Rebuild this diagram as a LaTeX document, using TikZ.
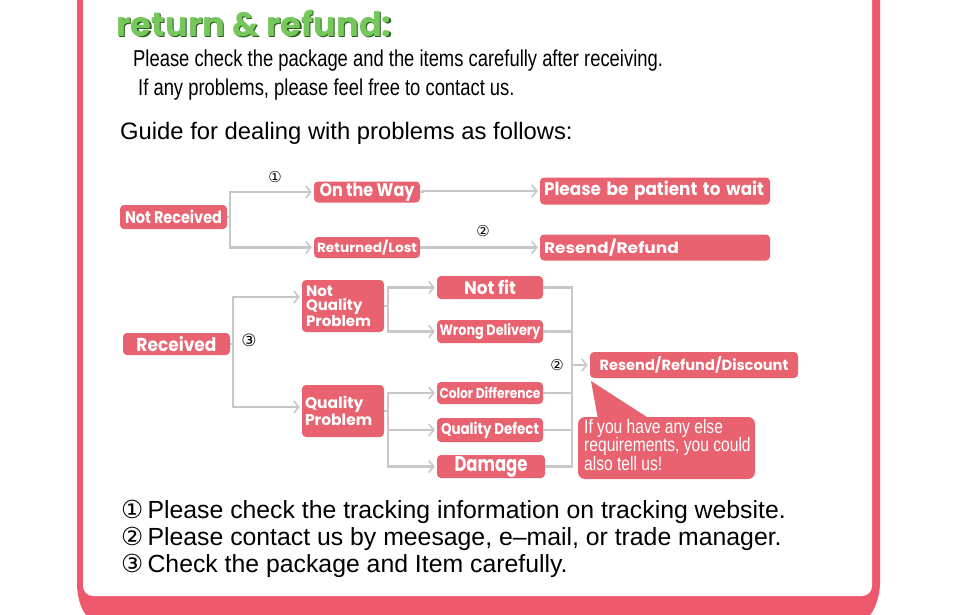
\documentclass[tikz,border=0pt]{standalone}
\usepackage{fontspec}
\usetikzlibrary{arrows.meta}
\setmainfont{Liberation Sans}
\newfontfamily\narrowfont[FakeStretch=0.8]{Liberation Sans}
\newfontfamily\boxfont{Poppins}
\newfontfamily\symfont{DejaVu Sans}
\definecolor{pinkbox}{RGB}{232,98,111}
\definecolor{framepink}{RGB}{238,88,108}
\definecolor{linegray}{RGB}{200,200,200}
\definecolor{titlegreen}{RGB}{118,200,92}
\definecolor{titledark}{RGB}{40,95,30}
\newcommand\bt[3]{\resizebox{#1pt}{#2pt}{\boxfont\bfseries #3}}
\tikzset{
  pbox/.style={fill=pinkbox, rounded corners=4pt, text=white, inner sep=0pt, align=center, font=\boxfont\bfseries},
  conn/.style={draw=linegray, line width=2.4pt},
  arr/.style={conn, -{Straight Barb[length=5pt,width=12pt,line width=1.6pt]}, shorten >=2pt},
  num/.style={font=\symfont\fontsize{15}{15}\selectfont, inner sep=0pt}
}
\begin{document}
\begin{tikzpicture}[x=1pt,y=-1pt]
\useasboundingbox (0,0) rectangle (960,615);
% frame
\fill[framepink] (77,-5) -- (77,585) .. controls (78,605) and (84,615) .. (92,620) -- (866,620) .. controls (874,612) and (879,600) .. (880,585) -- (880,-5) -- cycle;
\fill[white, rounded corners=10pt] (83,-25) -- (83,596) -- (872,596) -- (872,-25) -- cycle;
% title
\node[text=titledark, anchor=west] (tshadow) at (114.2,24.2) {\resizebox{275pt}{!}{\boxfont\bfseries return \& refund:}};
\node[text=titlegreen, anchor=west] (title) at (113,23) {\resizebox{275pt}{!}{\boxfont\bfseries return \& refund:}};
% intro text
\node[anchor=west, inner sep=0pt, font=\narrowfont\fontsize{23}{23}\selectfont] (l1) at (133,61) {Please check the package and the items carefully after receiving.};
\node[anchor=west, inner sep=0pt, font=\narrowfont\fontsize{23}{23}\selectfont] (l2) at (138,90) {If any problems, please feel free to contact us.};
\node[anchor=west, inner sep=0pt, font=\fontsize{23.8}{24}\selectfont] (guide) at (120,133) {Guide for dealing with problems as follows:};
% boxes upper
\node[pbox, minimum width=107pt, minimum height=24pt] (nr) at (173.5,217) {\bt{97}{13.5}{Not Received}};
\node[pbox, minimum width=106pt, minimum height=21pt] (ow) at (367,192) {\bt{95}{13.5}{On the Way}};
\node[pbox, minimum width=106pt, minimum height=21pt] (rl) at (367,247.5) {\bt{100}{12.5}{Returned/Lost}};
\node[pbox, minimum width=230pt, minimum height=27pt, text width=222pt, align=left] (pb) at (655,191) {\bt{220}{14.5}{Please be patient to wait}};
\node[pbox, minimum width=230pt, minimum height=26pt, text width=222pt, align=left] (rr) at (655,247.5) {\bt{135}{14.5}{Resend/Refund}};
% boxes lower
\node[pbox, minimum width=107pt, minimum height=22pt] (rcv) at (176.5,344) {\bt{80}{15}{Received}};
\node[pbox, minimum width=82pt, minimum height=52pt, font=\boxfont\bfseries\fontsize{15}{14}\selectfont, text width=74pt, align=left] (nqp) at (343,306) {Not\\Quality\\Problem};
\node[pbox, minimum width=82pt, minimum height=52pt, font=\boxfont\bfseries\fontsize{15.5}{16.5}\selectfont, text width=76pt, align=left] (qp) at (343,411) {Quality\\Problem};
\node[pbox, minimum width=106pt, minimum height=23pt] (nf) at (490,287.5) {\bt{52}{14.5}{Not fit}};
\node[pbox, minimum width=106pt, minimum height=23pt] (wd) at (490,331.5) {\bt{101}{12}{Wrong Delivery}};
\node[pbox, minimum width=106pt, minimum height=22pt] (cd) at (490,393) {\bt{101}{11.5}{Color Difference}};
\node[pbox, minimum width=106pt, minimum height=24pt] (qd) at (490,430) {\bt{98}{12.5}{Quality Defect}};
\node[pbox, minimum width=108pt, minimum height=23pt] (dm) at (491,466.5) {\bt{73}{15}{Damage}};
\node[pbox, minimum width=208pt, minimum height=26pt] (rrd) at (694,365) {\bt{189}{14}{Resend/Refund/Discount}};
% speech bubble
\fill[pinkbox, rounded corners=7pt] (578,417) rectangle (755,479);
\fill[pinkbox] (598,419) -- (591,381) -- (650,419) -- cycle;
\node[anchor=north west, inner sep=0pt, text=white, align=left, font=\narrowfont\fontsize{19.5}{18.5}\selectfont] (bub) at (584,419) {If you have any else\\requirements, you could\\also tell us!};
% connectors upper
\draw[arr] (nr.east) -- ++(3,0) |- (ow.west);
\draw[arr] (nr.east) -- ++(3,0) |- (rl.west);
\draw[arr] (ow.east) -- ++(3,0) |- (pb.west);
\draw[arr] (rl.east) -- ++(3,0) |- (rr.west);
% connectors lower
\draw[arr] (rcv.east) -- ++(3,0) |- ([yshift=9pt]nqp.west);
\draw[arr] (rcv.east) -- ++(3,0) |- ([yshift=4pt]qp.west);
\draw[arr] (nqp.east) -- ++(4,0) |- (nf.west);
\draw[arr] (nqp.east) -- ++(4,0) |- (wd.west);
\draw[arr] (qp.east) -- ++(4,0) |- (cd.west);
\draw[arr] (qp.east) -- ++(4,0) |- (qd.west);
\draw[arr] (qp.east) -- ++(4,0) |- (dm.west);
\coordinate (col) at (572,365);
\draw[conn] (nf.east) -| (col);
\draw[conn] (wd.east) -| (col);
\draw[conn] (cd.east) -| (col);
\draw[conn] (qd.east) -| (col);
\draw[conn] (dm.east) -| (col);
\draw[arr] (col) -- (rrd.west);
% circled labels
\node[num] (c1) at (275,177) {①};
\node[num] (c2) at (483,231) {②};
\node[num, font=\symfont\fontsize{17}{17}\selectfont] (c3) at (249,340) {③};
\node[num, fill=white, inner sep=1pt] (c4) at (557,365) {②};
% notes
\node[anchor=west, inner sep=0pt, font=\fontsize{24.8}{25}\selectfont] (n1) at (121,512) {{\symfont ①}\,Please check the tracking information on tracking website.};
\node[anchor=west, inner sep=0pt, font=\fontsize{24.8}{25}\selectfont] (n2) at (121,539) {{\symfont ②}\,Please contact us by meesage, e--mail, or trade manager.};
\node[anchor=west, inner sep=0pt, font=\fontsize{24.8}{25}\selectfont] (n3) at (121,566) {{\symfont ③}\,Check the package and Item carefully.};
\end{tikzpicture}
\end{document}
